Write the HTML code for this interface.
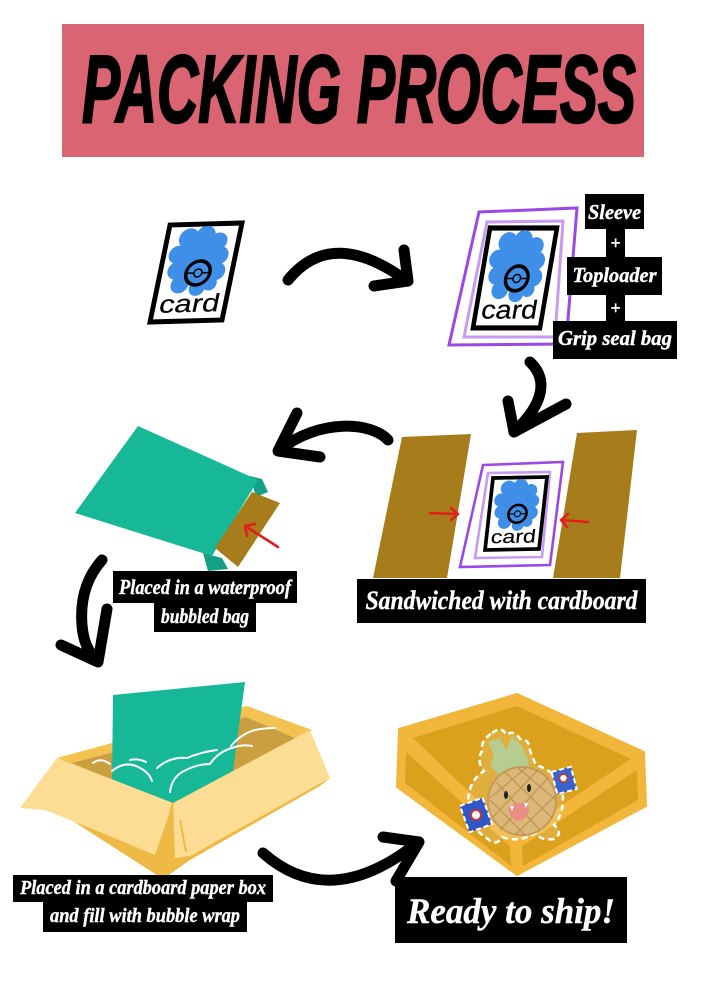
<!DOCTYPE html>
<html>
<head>
<meta charset="utf-8">
<style>
html,body{margin:0;padding:0;background:#fff;}
svg{display:block;}
.lbl{font-family:"Liberation Serif",serif;font-weight:bold;font-style:italic;fill:#fff;stroke:#fff;stroke-width:0.4;}
.card{font-family:"Liberation Sans",sans-serif;fill:#000;stroke:#000;stroke-width:0.2;}
.arr{fill:none;stroke:#000;stroke-width:11;stroke-linecap:round;stroke-linejoin:round;}
.red{fill:none;stroke:#e41e1a;stroke-width:2.6;stroke-linecap:round;stroke-linejoin:round;}
</style>
</head>
<body>
<svg width="706" height="1000" viewBox="0 0 706 1000" xmlns="http://www.w3.org/2000/svg">
<rect width="706" height="1000" fill="#fff"/>

<!-- Title banner -->
<rect x="62" y="24" width="582" height="133" fill="#db6473"/>
<text x="82" y="122" font-family="Liberation Sans, sans-serif" font-weight="bold" font-style="italic" font-size="96" textLength="554" lengthAdjust="spacingAndGlyphs" fill="#000" stroke="#000" stroke-width="2.5">PACKING PROCESS</text>

<!-- Card 1 -->
<g transform="matrix(1,-0.0278,-0.206,1,170,225)">
  <rect x="0" y="0" width="72" height="97" fill="#fff" stroke="#000" stroke-width="5"/>
  <g fill="#3f8fe8">
    <circle cx="22" cy="14" r="10"/><circle cx="38" cy="12" r="10"/><circle cx="52" cy="18" r="9"/>
    <circle cx="14" cy="30" r="9"/><circle cx="56" cy="32" r="9"/><circle cx="16" cy="46" r="9"/>
    <circle cx="56" cy="48" r="9"/><circle cx="22" cy="60" r="9"/><circle cx="40" cy="64" r="8"/>
    <circle cx="52" cy="60" r="7"/><circle cx="36" cy="38" r="22"/>
  </g>
  <circle cx="38" cy="49" r="12" fill="none" stroke="#000" stroke-width="3.5"/>
  <path d="M27,49 H34 M42,49 H49" stroke="#000" stroke-width="1.5"/>
  <circle cx="38" cy="49" r="4" fill="none" stroke="#000" stroke-width="1.5"/>
  <text class="card" x="6" y="88" font-size="25" textLength="60" lengthAdjust="spacingAndGlyphs">card</text>
</g>

<!-- Arrow 1 -->
<path class="arr" d="M288,280 Q332,226 407,281"/>
<path class="arr" d="M404,250 L408,281 L374,286"/>

<!-- Card 2 with sleeve frames -->
<polygon points="479,212 577,208 566,344 449,345" fill="none" stroke="#9a48e6" stroke-width="3"/>
<polygon points="487,222 563,221 555,337 464,337" fill="none" stroke="#c89bf0" stroke-width="3"/>
<g transform="matrix(0.93,0,-0.175,1.03,490,228)">
  <rect x="0" y="0" width="72" height="97" fill="#fff" stroke="#000" stroke-width="5"/>
  <g fill="#3f8fe8">
    <circle cx="22" cy="14" r="10"/><circle cx="38" cy="12" r="10"/><circle cx="52" cy="18" r="9"/>
    <circle cx="14" cy="30" r="9"/><circle cx="56" cy="32" r="9"/><circle cx="16" cy="46" r="9"/>
    <circle cx="56" cy="48" r="9"/><circle cx="22" cy="60" r="9"/><circle cx="40" cy="64" r="8"/>
    <circle cx="52" cy="60" r="7"/><circle cx="36" cy="38" r="22"/>
  </g>
  <circle cx="38" cy="49" r="12" fill="none" stroke="#000" stroke-width="3.5"/>
  <path d="M27,49 H34 M42,49 H49" stroke="#000" stroke-width="1.5"/>
  <circle cx="38" cy="49" r="4" fill="none" stroke="#000" stroke-width="1.5"/>
  <text class="card" x="6" y="88" font-size="25" textLength="60" lengthAdjust="spacingAndGlyphs">card</text>
</g>

<!-- Sleeve / Toploader / Grip seal labels -->
<rect x="585" y="194" width="59" height="35" fill="#000"/>
<text class="lbl" x="614.5" y="219" font-size="21" text-anchor="middle" textLength="53" lengthAdjust="spacingAndGlyphs">Sleeve</text>
<rect x="606" y="228" width="19" height="30" fill="#000"/>
<text class="lbl" x="615.5" y="249" font-size="18" text-anchor="middle" font-style="normal">+</text>
<rect x="567" y="257" width="95" height="38" fill="#000"/>
<text class="lbl" x="614.5" y="282" font-size="21" text-anchor="middle" textLength="84" lengthAdjust="spacingAndGlyphs">Toploader</text>
<rect x="606" y="294" width="19" height="28" fill="#000"/>
<text class="lbl" x="615.5" y="314" font-size="18" text-anchor="middle" font-style="normal">+</text>
<rect x="553" y="321" width="124" height="38" fill="#000"/>
<text class="lbl" x="615" y="345" font-size="21" text-anchor="middle" textLength="114" lengthAdjust="spacingAndGlyphs">Grip seal bag</text>

<!-- Arrow down -->
<path class="arr" d="M530,362 C547,378 546,402 514,432"/>
<path class="arr" d="M508,401 L514,432 L566,404"/>

<!-- Arrow 2 (leftward) -->
<path class="arr" d="M388,440 C372,422 320,418 279,450"/>
<path class="arr" d="M297,413 L278,451 L320,457"/>

<!-- Cardboard sandwich -->
<polygon points="402,437 471,434 447,578 373,578" fill="#a77c1b"/>
<polygon points="577,433 637,430 620,578 553,578" fill="#a77c1b"/>
<polygon points="483,465 563,462 550,565 460,567" fill="#fff" stroke="#9a48e6" stroke-width="2.6"/>
<polygon points="488,473 550,472 542,557 475,558" fill="none" stroke="#c89bf0" stroke-width="2.6"/>
<g transform="matrix(0.75,-0.014,-0.082,0.742,493,478)">
  <rect x="0" y="0" width="72" height="97" fill="#fff" stroke="#000" stroke-width="5"/>
  <g fill="#3f8fe8">
    <circle cx="22" cy="14" r="10"/><circle cx="38" cy="12" r="10"/><circle cx="52" cy="18" r="9"/>
    <circle cx="14" cy="30" r="9"/><circle cx="56" cy="32" r="9"/><circle cx="16" cy="46" r="9"/>
    <circle cx="56" cy="48" r="9"/><circle cx="22" cy="60" r="9"/><circle cx="40" cy="64" r="8"/>
    <circle cx="52" cy="60" r="7"/><circle cx="36" cy="38" r="22"/>
  </g>
  <circle cx="38" cy="49" r="12" fill="none" stroke="#000" stroke-width="3.5"/>
  <path d="M27,49 H34 M42,49 H49" stroke="#000" stroke-width="1.5"/>
  <circle cx="38" cy="49" r="4" fill="none" stroke="#000" stroke-width="1.5"/>
  <text class="card" x="6" y="88" font-size="25" textLength="60" lengthAdjust="spacingAndGlyphs">card</text>
</g>
<path class="red" d="M430,513 L458,514 M451,508 L458,514 L451,520"/>
<path class="red" d="M588,522 L561,520 M568,514 L561,520 L567,527"/>
<rect x="357" y="579" width="289" height="44" fill="#000"/>
<text class="lbl" x="501.5" y="609" font-size="26" text-anchor="middle" textLength="272" lengthAdjust="spacingAndGlyphs">Sandwiched with cardboard</text>

<!-- Bubble bag -->
<polygon points="203,553 222,558 228,569 208,571" fill="#13a084"/>
<polygon points="250,476 262,479 268,492 256,497" fill="#13a084"/>
<polygon points="138,426 258,480 212,556 75,513" fill="#17b897"/>
<polygon points="252,492 280,503 238,567 215,548" fill="#a77c1b"/>
<path class="red" d="M278,547 L245,526 M247,536 L245,526 L255,524"/>
<rect x="113" y="571" width="184" height="32" fill="#000"/>
<text class="lbl" x="205" y="594" font-size="21" text-anchor="middle" textLength="172" lengthAdjust="spacingAndGlyphs">Placed in a waterproof</text>
<rect x="154" y="602" width="102" height="30" fill="#000"/>
<text class="lbl" x="205" y="623" font-size="21" text-anchor="middle" textLength="88" lengthAdjust="spacingAndGlyphs">bubbled bag</text>

<!-- Arrow 3 -->
<path class="arr" d="M102,560 C86,578 80,600 82,625 C83,640 88,652 97,661"/>
<path class="arr" d="M107,609 L98,662 L61,645"/>

<!-- Box 3 with green bag -->
<polygon points="48,805 57,760 310,740 330,778 320,786 190,860 163,879" fill="#efb945"/>
<polygon points="57,758 247,706 312,730 300,740 246,717 72,763" fill="#f3c250"/>
<polygon points="72,763 246,717 300,740 173,803 113,781" fill="#c99f3f"/>
<polygon points="113,695 245,682 233,771 173,803 112,780" fill="#17b897"/>
<g fill="none" stroke="#fff" stroke-width="2" stroke-linecap="round">
  <path d="M93,763 q8,-6 17,1"/>
  <path d="M112,771 q14,-12 30,-2 q8,5 10,12"/>
  <path d="M130,760 q8,-2 16,2"/>
  <path d="M157,768 q14,-12 30,-10 q14,-6 30,-8"/>
  <path d="M170,792 q2,-16 16,-22 q12,-6 24,-6 q8,-12 22,-16 q10,-4 20,-2"/>
  <path d="M231,746 q10,-12 24,-16 q10,-2 20,-2"/>
</g>
<polygon points="20,808 57,758 173,803 155,855 95,830 45,810" fill="#fddc94"/>
<polygon points="173,803 310,730 330,778 190,856 175,858" fill="#fddc94"/>
<path d="M173,803 L160,850 M180,820 L186,852" stroke="#efb945" stroke-width="2" fill="none"/>
<rect x="13" y="875" width="260" height="27" fill="#000"/>
<text class="lbl" x="143" y="894" font-size="20" text-anchor="middle" textLength="246" lengthAdjust="spacingAndGlyphs">Placed in a cardboard paper box</text>
<rect x="43" y="901" width="204" height="31" fill="#000"/>
<text class="lbl" x="145" y="922" font-size="20" text-anchor="middle" textLength="190" lengthAdjust="spacingAndGlyphs">and fill with bubble wrap</text>

<!-- Arrow 4 -->
<path class="arr" d="M263,853 Q330,912 417,843"/>
<path class="arr" d="M383,837 L419,842 L396,881"/>

<!-- Ready box -->
<polygon points="399,729 517,694 644,752 646,806 517,875 397,787" fill="#f2b63b" stroke="#f2b63b" stroke-width="2" stroke-linejoin="round"/>
<polygon points="413,738 517,706 631,759 515,836" fill="#dba01c"/>
<polygon points="406,752 510,846 511,866 405,783" fill="#dba01c"/>
<polygon points="522,846 637,770 638,800 523,866" fill="#dba01c"/>

<!-- Pineapple sticker -->
<path d="M492,733 q10,-8 14,2 q8,-6 14,4 q10,0 10,12 l6,14 q20,6 26,24 q4,22 -8,36 q10,8 0,14 q-14,2 -18,-6 q-16,10 -34,4 q-6,10 -14,2 q-20,-12 -20,-36 q0,-22 16,-32 q-8,-10 -2,-20 q-2,-10 10,-18 z" fill="#fff" fill-opacity="0.15" stroke="#fff" stroke-width="2.5" stroke-dasharray="6 4"/>
<polygon points="488,742 500,738 506,750 512,736 522,746 528,760 530,772 500,776 490,766 494,756" fill="#b7cc8f"/>
<circle cx="522" cy="801" r="34" fill="#dcb878" stroke="#c49a5a" stroke-width="2"/>
<g stroke="#b88e52" stroke-width="1.3" fill="none" opacity="0.8">
  <path d="M496,782 L540,830 M505,772 L552,818 M490,800 L525,835 M518,768 L556,800"/>
  <path d="M548,778 L500,830 M538,770 L492,818 M556,795 L515,835 M526,768 L490,798"/>
</g>
<ellipse cx="506" cy="795" rx="2" ry="4" fill="#222"/>
<ellipse cx="529" cy="788" rx="2" ry="4" fill="#222"/>
<path d="M508,808 q10,-8 20,-4 q4,10 -6,16 q-10,4 -14,-12 z" fill="#e98d85"/>
<path d="M510,806 l2,5 l2,-5 z M524,803 l2,5 l2,-5 z" fill="#fff"/>
<g transform="rotate(-20 476 815)">
  <rect x="464" y="801" width="24" height="28" fill="#2f57c8" stroke="#fff" stroke-width="2" stroke-dasharray="5 3"/>
  <circle cx="476" cy="815" r="5" fill="#fff" stroke="#c33" stroke-width="2"/>
</g>
<g transform="rotate(-15 564 780)">
  <rect x="554" y="769" width="20" height="23" fill="#3a62cc" stroke="#fff" stroke-width="2" stroke-dasharray="5 3"/>
  <circle cx="564" cy="778" r="4" fill="#fff" stroke="#c33" stroke-width="1.6"/>
</g>

<rect x="395" y="877" width="232" height="66" fill="#000"/>
<text class="lbl" x="511" y="923" font-size="36" text-anchor="middle" textLength="208" lengthAdjust="spacingAndGlyphs">Ready to ship!</text>
</svg>
</body>
</html>
